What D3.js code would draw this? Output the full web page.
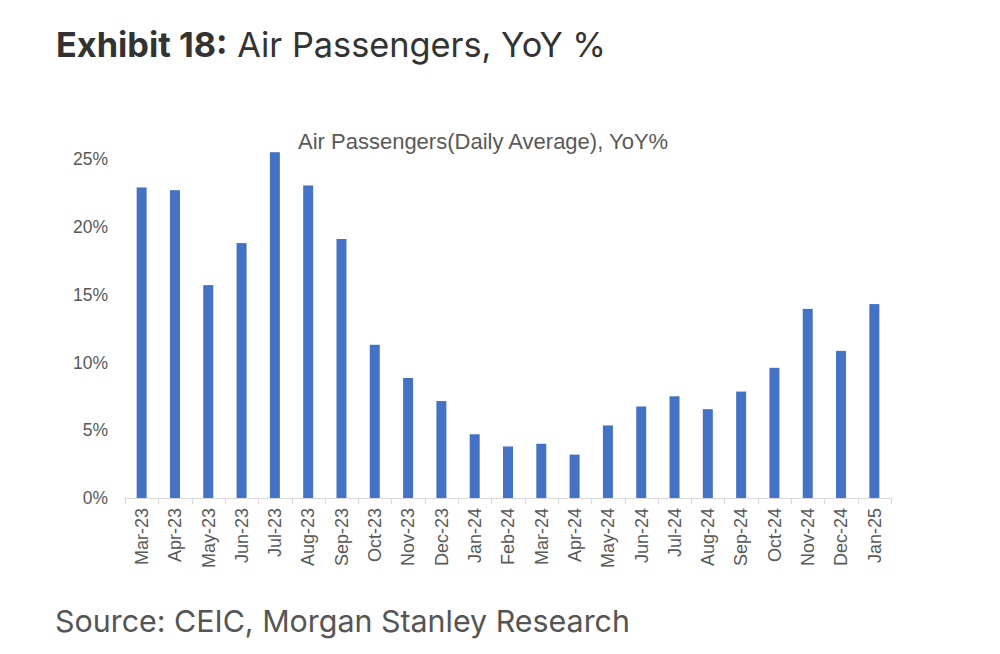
<!DOCTYPE html>
<html>
<head>
<meta charset="utf-8">
<script src="https://cdn.jsdelivr.net/npm/d3@7"></script>
<style>
  html, body { margin: 0; padding: 0; background: #fff; }
  svg { display: block; }
</style>
</head>
<body>
<svg id="chart" width="1000" height="654"></svg>
<script>
const categories = ["Mar-23","Apr-23","May-23","Jun-23","Jul-23","Aug-23","Sep-23","Oct-23","Nov-23","Dec-23","Jan-24","Feb-24","Mar-24","Apr-24","May-24","Jun-24","Jul-24","Aug-24","Sep-24","Oct-24","Nov-24","Dec-24","Jan-25"];
const yoyValues = [22.9, 22.7, 15.7, 18.8, 25.5, 23.05, 19.1, 11.3, 8.85, 7.15, 4.7, 3.8, 4.0, 3.2, 5.35, 6.75, 7.5, 6.55, 7.85, 9.6, 13.95, 10.85, 14.3];
const yTicks = [0, 5, 10, 15, 20, 25];
const titleBold = "Exhibit 18:";
const titleRest = " Air Passengers, YoY %";
const chartTitle = "Air Passengers(Daily Average), YoY%";
const sourceText = "Source: CEIC, Morgan Stanley Research";

const svg = d3.select("#chart");
const pLeft = 125, pRight = 891, pTop = 159, pBottom = 498;

const x = d3.scaleBand().domain(categories).range([pLeft, pRight]).paddingInner(0.7).paddingOuter(0.35);
const xb = d3.scaleBand().domain(categories).range([pLeft, pRight]);
const y = d3.scaleLinear().domain([0, 25]).range([pBottom, pTop]);

// Title
const t = svg.append("text").attr("x", 56).attr("y", 57)
  .attr("font-family", "Inter, 'Noto Sans', sans-serif").attr("font-size", 34.3).attr("fill", "#333333");
t.append("tspan").attr("font-weight", 700).text(titleBold);
t.append("tspan").attr("font-weight", 400).text(titleRest);

// Chart title
svg.append("text").attr("x", 298).attr("y", 149)
  .attr("font-family", "'Liberation Sans', Arial, sans-serif").attr("font-size", 22)
  .attr("fill", "#595959").text(chartTitle);

// Bars
svg.append("g").selectAll("rect").data(categories).join("rect")
  .attr("x", (d) => x(d))
  .attr("width", x.bandwidth())
  .attr("y", (d, i) => y(yoyValues[i]))
  .attr("height", (d, i) => y(0) - y(yoyValues[i]))
  .attr("fill", "#4472C4");

// Y axis labels
const yAxis = d3.axisLeft(y).tickValues(yTicks).tickFormat(d => d + "%").tickSize(0).tickPadding(0);
const gy = svg.append("g").attr("transform", `translate(108,0)`).call(yAxis);
gy.select(".domain").remove();
gy.selectAll("text").attr("font-family", "'Liberation Sans', Arial, sans-serif")
  .attr("font-size", 17.5).attr("fill", "#595959");

// X axis line and boundary ticks
const boundaries = categories.map(c => xb(c)).concat([pRight]);
const gx = svg.append("g");
gx.append("line").attr("x1", pLeft).attr("x2", pRight).attr("y1", pBottom + 0.5).attr("y2", pBottom + 0.5)
  .attr("stroke", "#d9d9d9").attr("stroke-width", 1.2);
gx.selectAll("line.tk").data(boundaries).join("line").attr("class", "tk")
  .attr("x1", d => Math.round(d) + 0.5).attr("x2", d => Math.round(d) + 0.5)
  .attr("y1", pBottom).attr("y2", pBottom + 6)
  .attr("stroke", "#d9d9d9").attr("stroke-width", 1.2);

// X labels
gx.selectAll("text").data(categories).join("text")
  .attr("transform", d => `translate(${xb(d) + xb.bandwidth() / 2},${pBottom + 10}) rotate(-90)`)
  .attr("text-anchor", "end").attr("dy", "0.35em")
  .attr("font-family", "'Liberation Sans', Arial, sans-serif").attr("font-size", 18)
  .attr("fill", "#595959").text(d => d);

// Source
svg.append("text").attr("x", 55).attr("y", 632)
  .attr("font-family", "Inter, 'Noto Sans', sans-serif").attr("font-size", 30.4)
  .attr("fill", "#555555").text(sourceText);
</script>
</body>
</html>
